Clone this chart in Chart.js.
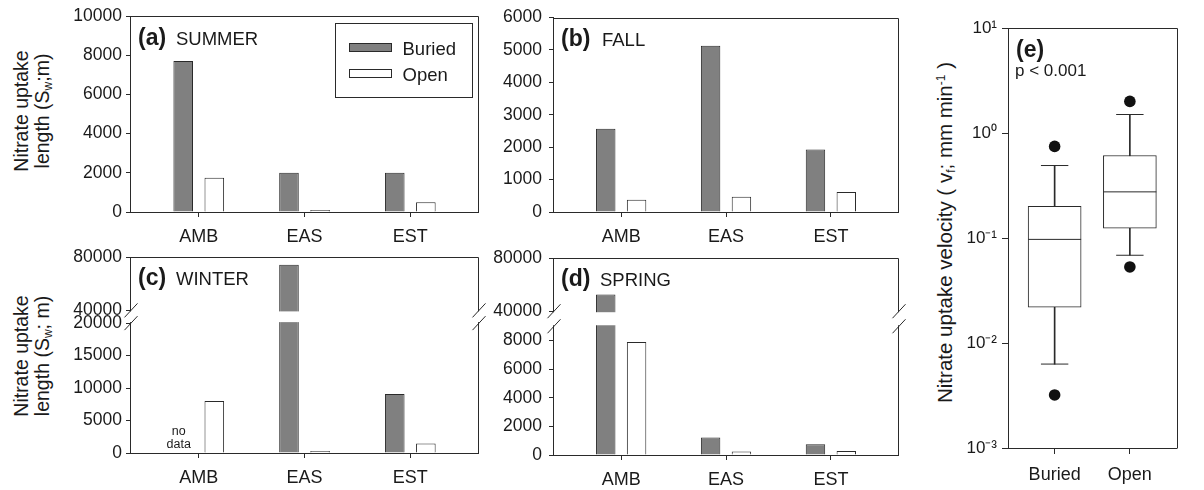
<!DOCTYPE html>
<html>
<head>
<meta charset="utf-8">
<script src="https://cdn.jsdelivr.net/npm/chart.js@4/dist/chart.umd.min.js"></script>
<style>
  body { margin: 0; background: #fff; width: 1204px; height: 490px; overflow: hidden; position: relative;
         font-family: "Liberation Sans", Arial, sans-serif; color: #1a1a1a; }
  canvas { position: absolute; }
  .ytitle { position: absolute; text-align: center; transform: rotate(-90deg); font-size: 19.5px;
            line-height: 21px; white-space: nowrap; }
  .ytitle sub { font-size: 12px; vertical-align: -3px; line-height: 0; }
  .ytitle sup { font-size: 12px; vertical-align: 7px; line-height: 0; }
</style>
</head>
<body>
<div class="ytitle" style="left:-68px; top:90px; width:200px; height:42px;">Nitrate uptake<br>length (S<sub>w</sub>;m)</div>
<div class="ytitle" style="left:-68px; top:335px; width:200px; height:42px;">Nitrate uptake<br>length (S<sub>w</sub>; m)</div>
<div class="ytitle" style="left:734px; top:222px; width:420px; height:21px; font-size:20.5px;">Nitrate uptake velocity ( v<sub>f</sub>; mm min<sup>-1</sup> )</div>
<script>
// data
const sites = ['AMB', 'EAS', 'EST'];
const summerBuried = [7700, 2000, 2000];
const summerOpen = [1750, 100, 500];
const fallBuried = [2570, 5130, 1930];
const fallOpen = [380, 470, 620];
const winterBuried = [null, 74200, 9100];
const winterOpen = [8000, 300, 1450];
const springBuried = [52500, 1230, 750];
const springOpen = [7900, 250, 280];
const winterTicks = [0, 5000, 10000, 15000, 20000, 40000, 80000];
const springTicks = [0, 2000, 4000, 6000, 8000, 40000, 80000];

const groups = ['Buried', 'Open'];
const boxQ1 = [0.022, 0.124];
const boxMedian = [0.097, 0.275];
const boxQ3 = [0.20, 0.61];
const whiskerLow = [0.0063, 0.0685];
const whiskerHigh = [0.49, 1.5];
const outlierLow = [0.0032, 0.053];
const outlierHigh = [0.745, 2.0];
const logTicks = [0.001, 0.01, 0.1, 1, 10];
const logTickLabels = ['10\u207B\u00B3', '10\u207B\u00B2', '10\u207B\u00B9', '10\u2070', '10\u00B9'];

const INK = '#2a2a2a';
Chart.defaults.font.family = '"Liberation Sans", Arial, sans-serif';
Chart.defaults.color = '#1a1a1a';

// linear scale with a gap between breakLow and breakHigh
class BrokenScale extends Chart.LinearScale {
  _frac(v) {
    const o = this.options;
    const up = 1 - o.lowFrac - o.gapFrac;
    if (v <= o.breakLow) return (v - this.min) / (o.breakLow - this.min) * o.lowFrac;
    if (v >= o.breakHigh) return o.lowFrac + o.gapFrac + (v - o.breakHigh) / (this.max - o.breakHigh) * up;
    return o.lowFrac + (v - o.breakLow) / (o.breakHigh - o.breakLow) * o.gapFrac;
  }
  getPixelForValue(v) {
    return this.getPixelForDecimal(this._frac(v));
  }
  getValueForPixel(p) {
    const o = this.options, d = this.getDecimalForPixel(p);
    if (d <= o.lowFrac) return this.min + d / o.lowFrac * (o.breakLow - this.min);
    if (d >= o.lowFrac + o.gapFrac) return o.breakHigh + (d - o.lowFrac - o.gapFrac) / (1 - o.lowFrac - o.gapFrac) * (this.max - o.breakHigh);
    return o.breakLow + (d - o.lowFrac) / o.gapFrac * (o.breakHigh - o.breakLow);
  }
}
BrokenScale.id = 'broken';
Chart.register(BrokenScale);

// top/right frame, axis break and slashes
const framePlugin = {
  id: 'frame',
  afterDraw(chart) {
    const ctx = chart.ctx, a = chart.chartArea, y = chart.scales.y;
    const L = Math.round(a.left) + 0.5, R = Math.round(a.right) + 0.5, T = Math.round(a.top) + 0.5;
    ctx.save();
    ctx.strokeStyle = INK;
    ctx.lineWidth = 1;
    ctx.beginPath();
    ctx.moveTo(L, T); ctx.lineTo(R, T); ctx.lineTo(R, Math.round(a.bottom) + 0.5);
    ctx.stroke();
    if (y.options.breakLow != null) {
      const y1 = y.getPixelForValue(y.options.breakHigh), y2 = y.getPixelForValue(y.options.breakLow);
      ctx.fillStyle = '#fff';
      ctx.fillRect(a.left - 3, y1 + 1, a.right - a.left + 6, y2 - y1 - 2);
      [L, R].forEach(x => [y1, y2].forEach(yy => {
        ctx.beginPath();
        ctx.moveTo(x - 6, yy + 7);
        ctx.lineTo(x + 7, yy - 7);
        ctx.stroke();
      }));
    }
    ctx.restore();
  }
};

// panel letters, notes and the legend
const notesPlugin = {
  id: 'notes',
  afterDraw(chart, args, opts) {
    const ctx = chart.ctx, a = chart.chartArea;
    ctx.save();
    ctx.fillStyle = '#1a1a1a';
    (opts.items || []).forEach(it => {
      ctx.font = (it.bold ? 'bold ' : '') + it.size + 'px "Liberation Sans", Arial, sans-serif';
      ctx.textAlign = it.align || 'left';
      ctx.textBaseline = 'alphabetic';
      const x = it.xValue != null ? chart.scales.x.getPixelForValue(it.xValue) + it.dx : a.left + it.dx;
      ctx.fillText(it.text, x, a.top + it.dy);
    });
    if (opts.legend) {
      const g = opts.legend;
      ctx.strokeStyle = INK;
      ctx.lineWidth = 1;
      ctx.strokeRect(Math.round(a.left + g.dx) + 0.5, Math.round(a.top + g.dy) + 0.5, g.w, g.h);
      ctx.font = '18.5px "Liberation Sans", Arial, sans-serif';
      ctx.textAlign = 'left';
      chart.data.datasets.forEach((ds, i) => {
        const sx = Math.round(a.left + g.dx + 14) + 0.5, sy = Math.round(a.top + g.dy + 20 + i * 25.5) + 0.5;
        ctx.fillStyle = ds.backgroundColor;
        ctx.fillRect(sx, sy, 42, 8);
        ctx.strokeRect(sx, sy, 42, 8);
        ctx.fillStyle = '#1a1a1a';
        ctx.fillText(ds.label, a.left + g.dx + 67.5, sy + 11.5);
      });
    }
    ctx.restore();
  }
};

function makeCanvas(box) {
  const c = document.createElement('canvas');
  c.width = box.w; c.height = box.h;
  c.style.left = box.x + 'px'; c.style.top = box.y + 'px';
  c.style.width = box.w + 'px'; c.style.height = box.h + 'px';
  document.body.appendChild(c);
  return c;
}

function seasonChart(box, area, buried, open, yScale, labelPad, notes) {
  const yBase = {
    afterFit: s => { s.width = area.l - box.x; },
    grid: { drawOnChartArea: false, tickLength: 4, color: INK },
    border: { color: INK },
    ticks: { font: { size: 17.5 }, padding: labelPad, callback: v => String(v) }
  };
  return new Chart(makeCanvas(box), {
    type: 'bar',
    data: {
      datasets: [
        { label: 'Buried', data: sites.map((s, i) => ({ x: i, y: buried[i] })),
          backgroundColor: '#808080', borderColor: INK, borderWidth: 1,
          categoryPercentage: 0.588, barPercentage: 0.63 },
        { label: 'Open', data: sites.map((s, i) => ({ x: i, y: open[i] })),
          backgroundColor: '#ffffff', borderColor: INK, borderWidth: 1,
          categoryPercentage: 0.588, barPercentage: 0.63 }
      ]
    },
    options: {
      responsive: false, animation: false, events: [],
      layout: { padding: { top: area.t - box.y, right: box.x + box.w - area.r, left: 0, bottom: 0 } },
      plugins: { legend: { display: false }, tooltip: { enabled: false }, notes: notes },
      scales: {
        x: {
          type: 'linear', min: -0.65, max: 2.64, offset: false,
          afterBuildTicks: s => { s.ticks = sites.map((c, i) => ({ value: i })); },
          afterFit: s => { s.height = box.y + box.h - area.b; },
          grid: { drawOnChartArea: false, offset: false, tickLength: 5, color: INK },
          border: { color: INK },
          ticks: { font: { size: 18 }, padding: 9, maxRotation: 0, autoSkip: false, callback: v => sites[v] }
        },
        y: Object.assign(yBase, yScale, { ticks: Object.assign(yBase.ticks, yScale.ticks || {}) })
      }
    },
    plugins: [framePlugin, notesPlugin]
  });
}

function panelLabel(letter, season, dxSeason, dy) {
  return [
    { text: '(' + letter + ')', bold: true, size: 23, dx: 8, dy: dy },
    { text: season, size: 18.5, dx: dxSeason, dy: dy }
  ];
}

seasonChart({ x: 0, y: 0, w: 490, h: 256 }, { l: 130, t: 16, r: 478, b: 212 },
  summerBuried, summerOpen,
  { type: 'linear', min: 0, max: 10000, ticks: { stepSize: 2000 } }, 4,
  { items: panelLabel('a', 'SUMMER', 46, 29), legend: { dx: 205, dy: 7, w: 137, h: 74 } });

seasonChart({ x: 490, y: 0, w: 420, h: 256 }, { l: 553, t: 16, r: 898, b: 212 },
  fallBuried, fallOpen,
  { type: 'linear', min: 0, max: 6000, ticks: { stepSize: 1000 } }, 7,
  { items: panelLabel('b', 'FALL', 49, 28) });

seasonChart({ x: 0, y: 236, w: 490, h: 254 }, { l: 130, t: 257, r: 478, b: 453 },
  winterBuried, winterOpen,
  { type: 'broken', min: 0, max: 80000, breakLow: 20000, breakHigh: 40000, lowFrac: 0.6626, gapFrac: 0.065,
    afterBuildTicks: s => { s.ticks = winterTicks.map(v => ({ value: v })); } }, 4,
  { items: panelLabel('c', 'WINTER', 46, 28).concat([
      { text: 'no', size: 12.5, xValue: 0, dx: -20, dy: 178, align: 'center' },
      { text: 'data', size: 12.5, xValue: 0, dx: -20, dy: 191, align: 'center' }]) });

seasonChart({ x: 490, y: 236, w: 420, h: 254 }, { l: 553, t: 258, r: 898, b: 455 },
  springBuried, springOpen,
  { type: 'broken', min: 0, max: 80000, breakLow: 9000, breakHigh: 40000, lowFrac: 0.6535, gapFrac: 0.0764,
    afterBuildTicks: s => { s.ticks = springTicks.map(v => ({ value: v })); } }, 7,
  { items: panelLabel('d', 'SPRING', 47, 28) });

// (e) box plot of uptake velocity
const boxE = { x: 900, y: 0, w: 304, h: 490 }, areaE = { l: 1008, t: 28, r: 1202, b: 448 };
new Chart(makeCanvas(boxE), {
  type: 'bar',
  data: {
    datasets: [
      { type: 'scatter', label: 'outliers', order: 0,
        data: outlierLow.map((v, i) => ({ x: i, y: v })).concat(outlierHigh.map((v, i) => ({ x: i, y: v }))),
        pointStyle: 'circle', pointRadius: 5.8, backgroundColor: '#111', borderWidth: 0 },
      { type: 'scatter', label: 'median', order: 1,
        data: boxMedian.map((v, i) => ({ x: i, y: v })),
        pointStyle: 'line', pointRadius: 26.5, borderColor: INK, borderWidth: 1 },
      { type: 'scatter', label: 'caps', order: 1,
        data: whiskerLow.map((v, i) => ({ x: i, y: v })).concat(whiskerHigh.map((v, i) => ({ x: i, y: v }))),
        pointStyle: 'line', pointRadius: 13.7, borderColor: INK, borderWidth: 1 },
      { label: 'box', order: 2, grouped: false, barThickness: 53,
        data: boxQ1.map((v, i) => ({ x: i, y: [v, boxQ3[i]] })),
        backgroundColor: '#fff', borderColor: INK, borderWidth: 1, borderSkipped: false },
      { label: 'whisker', order: 3, grouped: false, barThickness: 1,
        data: whiskerLow.map((v, i) => ({ x: i, y: [v, whiskerHigh[i]] })),
        backgroundColor: INK, borderWidth: 0 }
    ]
  },
  options: {
    responsive: false, animation: false, events: [],
    layout: { padding: { top: areaE.t - boxE.y, right: boxE.x + boxE.w - areaE.r, left: 0, bottom: 0 } },
    plugins: {
      legend: { display: false }, tooltip: { enabled: false },
      notes: { items: [
        { text: '(e)', bold: true, size: 23, dx: 8, dy: 29 },
        { text: 'p < 0.001', size: 17, dx: 7, dy: 48 }
      ] }
    },
    scales: {
      x: {
        type: 'linear', min: -0.62, max: 1.62, offset: false,
        afterBuildTicks: s => { s.ticks = groups.map((g, i) => ({ value: i })); },
        afterFit: s => { s.height = boxE.y + boxE.h - areaE.b; },
        grid: { drawOnChartArea: false, offset: false, tickLength: 6, color: INK },
        border: { color: INK },
        ticks: { font: { size: 18 }, padding: 10, maxRotation: 0, autoSkip: false, callback: v => groups[v] }
      },
      y: {
        type: 'logarithmic', min: 0.001, max: 10,
        afterBuildTicks: s => { s.ticks = logTicks.map(v => ({ value: v })); },
        afterFit: s => { s.width = areaE.l - boxE.x; },
        grid: { drawOnChartArea: false, tickLength: 6, color: INK },
        border: { color: INK },
        ticks: { font: { size: 17 }, padding: 5, callback: (v, i) => logTickLabels[i] }
      }
    }
  },
  plugins: [framePlugin, notesPlugin]
});
</script>
</body>
</html>
